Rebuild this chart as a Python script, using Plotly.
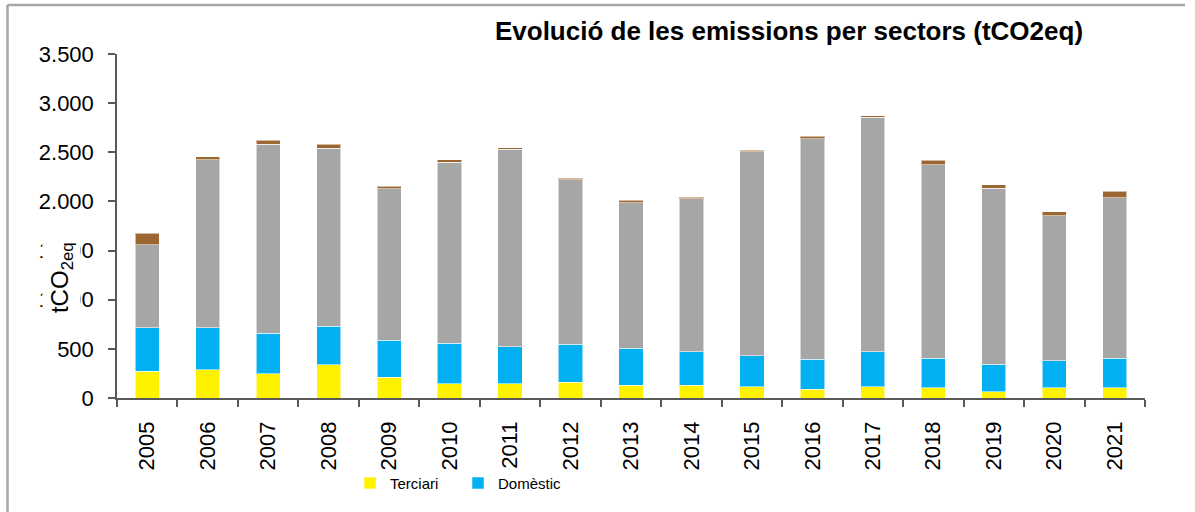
import plotly.graph_objects as go

years = ["2005", "2006", "2007", "2008", "2009", "2010", "2011", "2012", "2013",
         "2014", "2015", "2016", "2017", "2018", "2019", "2020", "2021"]
terciari = [270, 287, 246, 337, 209, 145, 145, 159, 132, 132, 115, 91, 115, 104, 64, 104, 104]
domestic = [445, 428, 415, 392, 378, 412, 378, 388, 374, 337, 317, 301, 354, 301, 277, 274, 301]
mobilitat = [844, 1711, 1920, 1811, 1542, 1842, 2007, 1673, 1481, 1558, 2075, 2246, 2388, 1967, 1792, 1477, 1632]
residus = [118, 30, 40, 44, 24, 27, 17, 14, 27, 14, 13, 24, 17, 47, 36, 41, 65]
y_ticks = [0, 500, 1000, 1500, 2000, 2500, 3000, 3500]

# layout geometry (pixels)
W, H = 1195, 512
L, R, T, B = 117, 50, 54, 111
pw, ph = W - L - R, H - T - B


def px_x(x):
    return (x - L) / pw


def px_y(y):
    return (H - B - y) / ph


edge = dict(color="rgba(255,255,255,0.55)", width=1)
fig = go.Figure()
fig.add_trace(go.Bar(x=years, y=terciari, name="Terciari",
                     marker=dict(color="#FFF200", line=edge)))
fig.add_trace(go.Bar(x=years, y=domestic, name="Domèstic",
                     marker=dict(color="#00B0F0", line=edge)))
fig.add_trace(go.Bar(x=years, y=mobilitat, name="Mobilitat", showlegend=False,
                     marker=dict(color="#A6A6A6", line=edge)))
fig.add_trace(go.Bar(x=years, y=residus, name="Residus", showlegend=False,
                     marker=dict(color="#9C6633", line=edge)))

fig.update_layout(
    width=W, height=H,
    barmode="stack", bargap=0.6,
    separators=",.",
    paper_bgcolor="white", plot_bgcolor="white",
    margin=dict(l=L, r=R, t=T, b=B, pad=0),
    font=dict(family="Liberation Sans, Arial, sans-serif", color="#000000"),
    title=dict(text="<b>Evolució de les emissions per sectors (tCO2eq)</b>",
               font=dict(size=26, color="#000000"),
               x=px_x(789), xref="paper", xanchor="center",
               y=1 - 31 / H, yref="container", yanchor="middle"),
    showlegend=True,
    legend=dict(orientation="h", x=px_x(350), xanchor="left",
                y=px_y(487), yanchor="middle",
                font=dict(size=15, color="#000000"),
                entrywidth=63, entrywidthmode="pixels",
                traceorder="normal", bgcolor="rgba(0,0,0,0)"),
    xaxis=dict(type="category", showline=True, linecolor="#595959", linewidth=1.5,
               ticks="outside", ticklen=7, tickcolor="#595959", tickwidth=1.5,
               tickson="boundaries", tickangle=-90, ticklabelstandoff=13,
               tickfont=dict(size=22, color="#000000"),
               showgrid=False, zeroline=False),
    yaxis=dict(range=[0, 3500], tickvals=y_ticks, tickformat=",d",
               showline=True, linecolor="#595959", linewidth=1.5,
               ticks="outside", ticklen=7, tickcolor="#595959", tickwidth=1.5,
               ticklabelstandoff=10,
               tickfont=dict(size=22, color="#000000"),
               showgrid=False, zeroline=False),
)

# y-axis title with white box covering part of the tick labels
fig.add_annotation(text="tCO<sub>2eq</sub>", textangle=-90,
                   xref="paper", yref="paper", x=px_x(61), y=px_y(280),
                   xanchor="center", yanchor="middle", showarrow=False,
                   font=dict(size=24, color="#000000"),
                   bgcolor="white", borderpad=3)

# outer frame (top and left edges visible)
frame = dict(color="#A6A6A6", width=2.5)
fig.add_shape(type="line", xref="paper", yref="paper",
              x0=px_x(7.5), x1=px_x(1185), y0=px_y(4.5), y1=px_y(4.5), line=frame)
fig.add_shape(type="line", xref="paper", yref="paper",
              x0=px_x(7.5), x1=px_x(7.5), y0=px_y(4.5), y1=px_y(530), line=frame)

fig.write_html("out.html", config={"displayModeBar": False},
               post_script="document.body.style.margin='0';")
